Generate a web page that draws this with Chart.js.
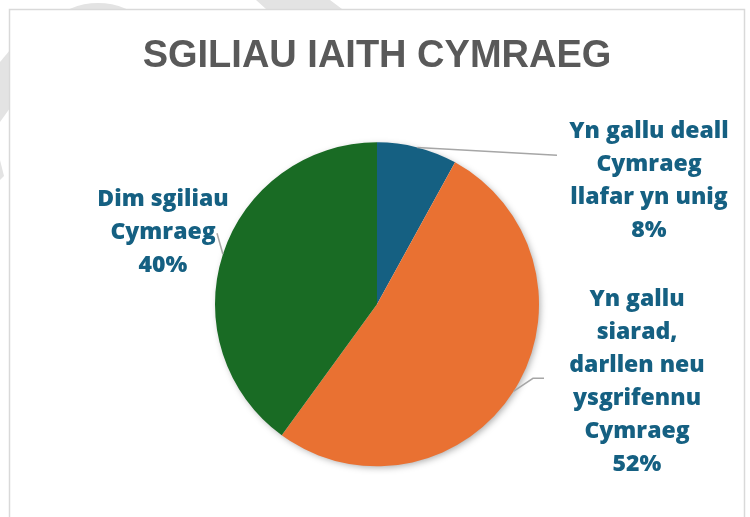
<!DOCTYPE html>
<html>
<head>
<meta charset="utf-8">
<script src="https://cdn.jsdelivr.net/npm/chart.js@4.4.1/dist/chart.umd.min.js"></script>
<style>
  body { margin: 0; background: #ffffff; }
  canvas { display: block; }
</style>
</head>
<body>
<canvas id="diagram" width="750" height="517"></canvas>
<script>
// categorïau a gwerthoedd (%)
const categories = [
  ["Yn gallu deall", "Cymraeg", "llafar yn unig"],
  ["Yn gallu", "siarad,", "darllen neu", "ysgrifennu", "Cymraeg"],
  ["Dim sgiliau", "Cymraeg"],
];
const values = [8, 52, 40];
const colours = ["#156082", "#E97132", "#196B24"];
const titleText = "SGILIAU IAITH CYMRAEG";

// lle mae'r labeli a'r llinellau arwain, o gymharu â chanol y pei
const labelPlacement = [
  { dx: 272, dy: -123, leader: [[180, -149]] },
  { dx: 260, dy: 78, leader: [[156, 74], [167, 74]] },
  { dx: -214, dy: -72, leader: [[-160, -71]] },
];

// ffrâm a dyfrnod y tu ôl i'r siart
const framePlugin = {
  id: "frame",
  beforeDraw(chart) {
    const ctx = chart.ctx;
    ctx.save();
    ctx.fillStyle = "#e3e3e3";
    ctx.beginPath();
    ctx.arc(98, 74, 71, 0, Math.PI * 2);
    ctx.fill();
    ctx.beginPath();
    ctx.moveTo(256, 0);
    ctx.lineTo(330, 0);
    ctx.lineTo(342, 9);
    ctx.lineTo(266, 9);
    ctx.closePath();
    ctx.fill();
    ctx.beginPath();
    ctx.moveTo(0, 62);
    ctx.lineTo(10, 50);
    ctx.lineTo(10, 108);
    ctx.lineTo(0, 122);
    ctx.closePath();
    ctx.fill();
    ctx.beginPath();
    ctx.moveTo(0, 160);
    ctx.lineTo(4, 176);
    ctx.lineTo(0, 180);
    ctx.closePath();
    ctx.fill();
    ctx.fillStyle = "#ffffff";
    ctx.fillRect(10, 10, 734, 520);
    ctx.strokeStyle = "#d9d9d9";
    ctx.lineWidth = 1.5;
    ctx.strokeRect(9.5, 9.5, 735, 520);
    ctx.restore();
  },
  beforeDatasetsDraw(chart) {
    const arc = chart.getDatasetMeta(0).data[0];
    const ctx = chart.ctx;
    ctx.save();
    ctx.shadowColor = "rgba(0,0,0,0.35)";
    ctx.shadowBlur = 7;
    ctx.shadowOffsetX = 2;
    ctx.shadowOffsetY = 2;
    ctx.fillStyle = "#ffffff";
    ctx.beginPath();
    ctx.arc(arc.x, arc.y, arc.outerRadius - 1, 0, Math.PI * 2);
    ctx.fill();
    ctx.restore();
  },
};

// labeli data a llinellau arwain
const labelPlugin = {
  id: "sliceLabels",
  afterDatasetsDraw(chart) {
    const ctx = chart.ctx;
    const arcs = chart.getDatasetMeta(0).data;
    arcs.forEach((arc, i) => {
      const place = labelPlacement[i];
      const mid = (arc.startAngle + arc.endAngle) / 2;
      const sx = arc.x + Math.cos(mid) * arc.outerRadius;
      const sy = arc.y + Math.sin(mid) * arc.outerRadius;

      ctx.save();
      ctx.strokeStyle = "#a6a6a6";
      ctx.lineWidth = 1.5;
      ctx.beginPath();
      ctx.moveTo(sx, sy);
      place.leader.forEach((p) => ctx.lineTo(arc.x + p[0], arc.y + p[1]));
      ctx.stroke();

      const lines = categories[i].concat([values[i] + "%"]);
      const lh = 33;
      const cx = arc.x + place.dx;
      const cy = arc.y + place.dy;
      ctx.fillStyle = "#156082";
      ctx.font = "800 23px 'Open Sans'";
      ctx.textAlign = "center";
      ctx.textBaseline = "middle";
      lines.forEach((line, j) => {
        ctx.fillText(line, cx, cy + (j - (lines.length - 1) / 2) * lh);
      });
      ctx.restore();
    });
  },
};

const config = {
  type: "pie",
  data: {
    labels: categories,
    datasets: [
      {
        data: values,
        backgroundColor: colours,
        borderWidth: 0,
        radius: 162,
      },
    ],
  },
  options: {
    responsive: false,
    animation: false,
    layout: { padding: { top: 4, left: 10, right: 6, bottom: 0 } },
    plugins: {
      legend: { display: false },
      tooltip: { enabled: false },
      title: {
        display: true,
        text: titleText,
        color: "#595959",
        font: { family: "'Liberation Sans', Arial", size: 38, weight: "bold" },
        padding: { top: 30, bottom: 12 },
      },
    },
  },
  plugins: [framePlugin, labelPlugin],
};

const canvas = document.getElementById("diagram");
const chart = new Chart(canvas, config);
</script>
</body>
</html>
